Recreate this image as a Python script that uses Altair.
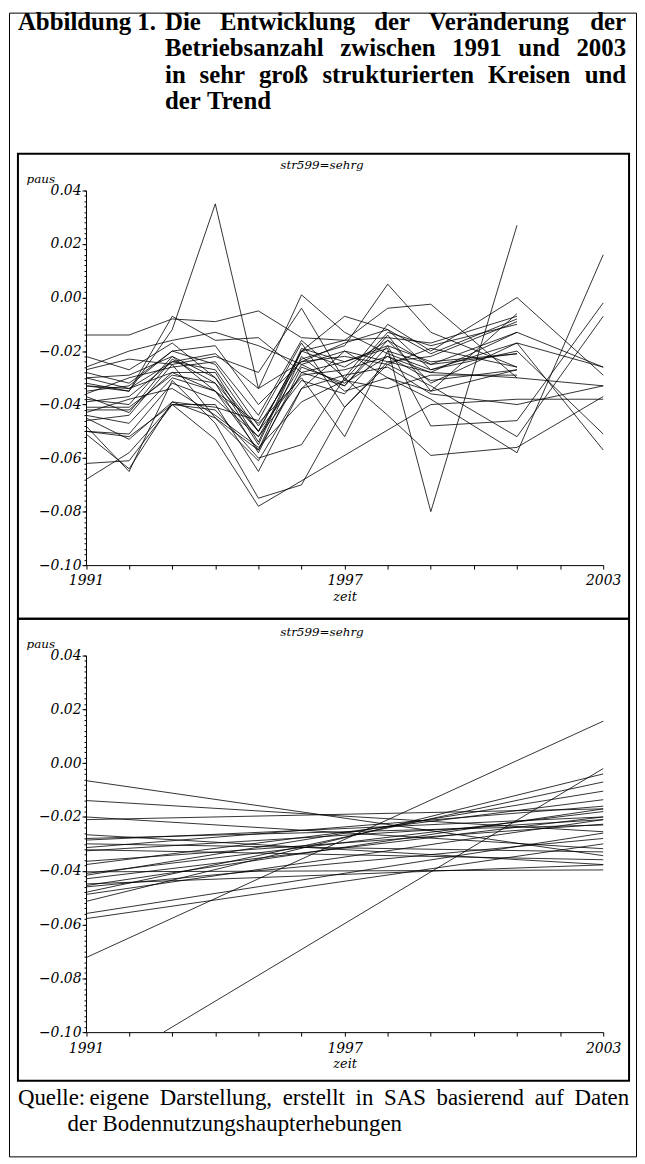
import altair as alt
import pandas as pd

# ---------------- data ----------------
years = [1991, 1992, 1993, 1994, 1995, 1996, 1997, 1998, 1999, 2001, 2003]

s01 = [-0.014, -0.014, -0.008, -0.009, -0.005, -0.015, -0.016, -0.015, -0.017, -0.007, None]
s02 = [-0.033, -0.035, -0.012, 0.035, -0.034, -0.024, -0.017, -0.012, -0.027, -0.020, -0.051]
s03 = [-0.030, -0.034, -0.024, -0.021, -0.034, 0.001, -0.013, -0.021, -0.027, -0.017, -0.026]
s04 = [-0.027, -0.023, -0.025, -0.022, -0.028, -0.004, -0.031, -0.013, -0.018, -0.010, None]
s05 = [-0.035, -0.033, -0.020, -0.025, -0.048, -0.023, -0.018, 0.005, -0.013, -0.026, None]
s06 = [-0.038, -0.040, -0.022, -0.030, -0.055, -0.020, -0.016, -0.004, -0.0025, -0.030, -0.033]
s07 = [-0.022, -0.027, -0.017, -0.030, -0.050, -0.020, -0.007, -0.012, -0.021, -0.008, None]
s08 = [-0.044, -0.047, -0.030, -0.035, -0.057, -0.028, -0.024, -0.019, -0.080, 0.027, None]
s09 = [-0.050, -0.052, -0.040, -0.042, -0.060, -0.055, -0.030, -0.044, -0.059, -0.056, -0.037]
s10 = [-0.062, -0.061, -0.040, -0.053, -0.078, None, None, None, -0.040, -0.038, -0.038]
s11 = [-0.048, -0.065, -0.031, -0.047, -0.075, -0.070, -0.041, -0.025, -0.033, -0.052, -0.007]
s12 = [-0.042, -0.042, -0.028, -0.035, -0.047, -0.030, -0.052, -0.020, -0.025, -0.013, None]
s13 = [-0.068, -0.058, -0.040, -0.040, -0.065, -0.034, -0.020, -0.030, -0.035, -0.027, None]
s14 = [-0.032, -0.035, -0.007, -0.016, -0.015, -0.028, -0.033, -0.016, -0.025, -0.021, None]
s15 = [-0.026, -0.020, -0.016, -0.013, -0.018, -0.025, -0.020, -0.024, -0.028, -0.013, -0.026]
s16 = [-0.045, -0.053, -0.039, -0.045, -0.057, -0.022, -0.035, -0.030, -0.038, -0.058, 0.016]
s17 = [-0.050, -0.051, -0.032, -0.038, -0.052, -0.031, -0.036, -0.018, -0.048, -0.046, -0.002]
s18 = [-0.036, -0.030, -0.026, -0.024, -0.044, -0.016, -0.030, -0.010, -0.020, 0.000, -0.029]
s19 = [-0.041, -0.041, -0.029, -0.032, -0.058, -0.026, -0.032, -0.022, -0.031, -0.027, None]
s20 = [-0.033, -0.034, -0.028, -0.028, -0.054, -0.019, -0.024, -0.018, -0.024, -0.021, None]
s21 = [-0.046, -0.044, -0.025, -0.045, -0.061, -0.034, -0.029, -0.026, -0.036, -0.040, -0.033]
s22 = [-0.039, -0.037, -0.024, -0.027, -0.050, -0.020, -0.026, -0.016, -0.032, -0.017, -0.057]
s23 = [-0.051, -0.064, -0.039, -0.041, -0.046, -0.017, -0.041, -0.024, -0.022, -0.009, None]
s24 = [-0.030, -0.029, -0.022, -0.035, -0.052, -0.025, -0.033, -0.014, -0.035, -0.006, None]
s25 = [-0.043, -0.038, -0.034, -0.044, -0.056, -0.039, -0.031, -0.034, -0.029, -0.029, None]
s26 = [-0.028, -0.032, -0.020, -0.018, -0.040, -0.024, -0.022, -0.025, -0.019, -0.026, None]
s27 = [-0.037, -0.043, -0.023, -0.032, -0.050, -0.029, -0.027, -0.022, -0.028, -0.030, None]

series = [s01, s02, s03, s04, s05, s06, s07, s08, s09, s10, s11, s12, s13, s14,
          s15, s16, s17, s18, s19, s20, s21, s22, s23, s24, s25, s26, s27]

# trend lines: start year, start value, end year, end value
trend_x0 = [1991] * 26 + [1992.8]
trend_y0 = [-0.0065, -0.0139, -0.020, -0.021, -0.0266, -0.0286, -0.030, -0.0314, -0.0322,
            -0.0326, -0.0365, -0.0377, -0.0404, -0.0417, -0.043, -0.0449, -0.0455, -0.048,
            -0.0488, -0.0514, -0.0559, -0.0578, -0.0723, -0.028, -0.041, -0.046, -0.100]
trend_x1 = [2003] * 27
trend_y1 = [-0.0344, -0.0255, -0.0318, -0.017, -0.0377, -0.020, -0.033, -0.016, -0.0359,
            -0.021, -0.0227, -0.0136, -0.0397, -0.0104, -0.020, -0.0378, -0.017, -0.007,
            -0.021, -0.004, -0.026, -0.030, 0.0156, -0.023, -0.018, -0.028, -0.002]

y_ticks = [0.04, 0.02, 0.00, -0.02, -0.04, -0.06, -0.08, -0.10]
x_ticks = list(range(1991, 2004))

title_head = "Abbildung 1."
title_lines = ["Die Entwicklung der Veränderung der",
               "Betriebsanzahl zwischen 1991 und 2003",
               "in sehr groß strukturierten Kreisen und",
               "der Trend"]
panel_title = "str599=sehrg"
source_head = "Quelle:"
source_lines = ["eigene Darstellung, erstellt in SAS basierend auf Daten",
                "der Bodennutzungshaupterhebungen"]

# ---------------- tables ----------------
rows1 = []
for i, s in enumerate(series):
    for yr, v in zip(years, s):
        if v is not None:
            rows1.append({"id": i, "zeit": yr, "paus": v})
df1 = pd.DataFrame(rows1)

rows2 = []
for i in range(len(trend_y0)):
    rows2.append({"id": i, "zeit": trend_x0[i], "paus": trend_y0[i]})
    rows2.append({"id": i, "zeit": trend_x1[i], "paus": trend_y1[i]})
df2 = pd.DataFrame(rows2)

# ---------------- layout (page px -> chart px) ----------------
PAD = 1
M = 8 + PAD
W, H = 640 - M, 1160 - M


def cx(x):
    return x - M


def cy(y):
    return y - M


# Times metrics (Liberation Serif is metric compatible) for justified text
TB = {" ": 250, ".": 250, ",": 250, ":": 333, "0": 500, "1": 500, "2": 500, "3": 500, "9": 500,
      "A": 722, "B": 667, "D": 722, "E": 667, "K": 778, "T": 667, "V": 722,
      "a": 500, "b": 556, "c": 444, "d": 556, "e": 444, "f": 333, "g": 500, "h": 556,
      "i": 278, "k": 556, "l": 278, "m": 833, "n": 556, "o": 500, "p": 556, "r": 444,
      "s": 389, "t": 333, "u": 556, "v": 500, "w": 722, "z": 444, "ß": 556, "ä": 500}
TR = {" ": 250, ".": 250, ",": 250, ":": 278, "A": 722, "B": 667, "D": 722, "Q": 722, "S": 556,
      "a": 444, "b": 500, "c": 444, "d": 500, "e": 444, "f": 333, "g": 500, "h": 500,
      "i": 278, "l": 278, "m": 778, "n": 500, "o": 500, "p": 500, "r": 333, "s": 389,
      "t": 278, "u": 500, "z": 444}


def word_rows(line, left, right, baseline, size, table, justify):
    words = line.split(" ")
    wid = [sum(table.get(c, 500) for c in w) * size / 1000.0 for w in words]
    sp = table[" "] * size / 1000.0
    if justify and len(words) > 1:
        gap = max(sp * 0.8, (right - left - sum(wid)) / (len(words) - 1))
    else:
        gap = sp
    out = []
    x = left
    for k, (w, ww) in enumerate(zip(words, wid)):
        if justify and k == len(words) - 1 and len(words) > 1:
            out.append({"t": w, "px": cx(right), "py": cy(baseline), "al": "right"})
        else:
            out.append({"t": w, "px": cx(x), "py": cy(baseline), "al": "left"})
        x += ww + gap
    return out


def text_layer(rows, size, weight):
    d = pd.DataFrame(rows)
    base = alt.Chart(d)
    left = base.transform_filter("datum.al == 'left'").mark_text(
        font="Liberation Serif", fontSize=size, fontWeight=weight, align="left",
        baseline="alphabetic", color="black").encode(
        text="t:N", x=alt.X("px:Q", scale=None, axis=None), y=alt.Y("py:Q", scale=None, axis=None))
    right = base.transform_filter("datum.al == 'right'").mark_text(
        font="Liberation Serif", fontSize=size, fontWeight=weight, align="right",
        baseline="alphabetic", color="black").encode(
        text="t:N", x=alt.X("px:Q", scale=None, axis=None), y=alt.Y("py:Q", scale=None, axis=None))
    return [left, right]


# header
T_SIZE, T_LH, T_BASE = 25, 26.5, 26.5
hdr_rows = [{"t": title_head, "px": cx(18), "py": cy(T_BASE), "al": "left"}]
for k, ln in enumerate(title_lines):
    hdr_rows += word_rows(ln, 166, 630, T_BASE + k * T_LH, T_SIZE, TB,
                          justify=(k < len(title_lines) - 1))

# footer
S_SIZE = 23
src_rows = [{"t": source_head, "px": cx(18), "py": cy(1108), "al": "left"}]
src_rows += word_rows(source_lines[0], 90, 633, 1108, S_SIZE, TR, justify=True)
src_rows += word_rows(source_lines[1], 68, 633, 1134, S_SIZE, TR, justify=False)

P1 = dict(x0=cx(86.5), x1=cx(607), ytop=cy(188), ybot=cy(565), box=(18, 151, 633, 619),
          title_y=162, paus_y=176)
P2 = dict(x0=cx(86.5), x1=cx(607), ytop=cy(656), ybot=cy(1035), box=(18, 619, 633, 1084),
          title_y=632, paus_y=644)

FONT_AX = "DejaVu Serif"
one = pd.DataFrame({"k": [0]})
minor_vals = [round(-0.10 + 0.002 * i, 3) for i in range(71)]


def panel(df, P):
    xs = alt.Scale(domain=[1991, 2003], range=[P["x0"], P["x1"]], nice=False, zero=False)
    ys = alt.Scale(domain=[-0.10, 0.04], range=[P["ybot"], P["ytop"]], nice=False, zero=False)
    lines = alt.Chart(df).mark_line(color="black", strokeWidth=0.8).encode(
        x=alt.X("zeit:Q", scale=xs,
                axis=alt.Axis(orient="bottom", offset=-(H - P["ybot"]), values=x_ticks,
                              format="d", labelFlush=False, labelOverlap=False,
                              labelExpr="(datum.value==1991||datum.value==1997||datum.value==2003) ? datum.label : ''",
                              title="zeit", titleFont=FONT_AX, titleFontStyle="italic",
                              titleFontWeight="normal", titleFontSize=13, titlePadding=3,
                              tickSize=4, labelPadding=5, grid=False)),
        y=alt.Y("paus:Q", scale=ys,
                axis=alt.Axis(orient="left", offset=-P["x0"], values=y_ticks, format=".2f",
                              labelFlush=False, labelOverlap=False,
                              title=None, tickSize=4, labelPadding=1, grid=False)),
        detail="id:N",
    )
    minor = alt.Chart(df).mark_line(strokeOpacity=0).encode(
        x=alt.X("zeit:Q", scale=xs, axis=None),
        y=alt.Y("paus:Q", scale=ys,
                axis=alt.Axis(orient="left", offset=-P["x0"], values=minor_vals, labels=False,
                              domain=False, tickSize=2, title=None, grid=False)),
        detail="id:N",
    )
    x0b, y0b, x1b, y1b = P["box"]
    box = alt.Chart(one).mark_rect(fillOpacity=0, stroke="black", strokeWidth=2).encode(
        x=alt.value(cx(x0b)), x2=alt.value(cx(x1b)), y=alt.value(cy(y0b)), y2=alt.value(cy(y1b)))
    ttl = alt.Chart(pd.DataFrame({"t": [panel_title]})).mark_text(
        font=FONT_AX, fontStyle="italic", fontSize=12, align="center", baseline="middle").encode(
        text="t:N", x=alt.value(cx(324)), y=alt.value(cy(P["title_y"])))
    paus = alt.Chart(pd.DataFrame({"t": ["paus"]})).mark_text(
        font=FONT_AX, fontStyle="italic", fontSize=12, align="center", baseline="middle").encode(
        text="t:N", x=alt.value(cx(41)), y=alt.value(cy(P["paus_y"])))
    return [box, lines, minor, ttl, paus]


layers = (text_layer(hdr_rows, T_SIZE, "bold") + panel(df1, P1) + panel(df2, P2)
          + text_layer(src_rows, S_SIZE, "normal"))

chart = alt.layer(*layers).resolve_scale(x="independent", y="independent").properties(
    width=W, height=H,
    autosize=alt.AutoSizeParams(type="none"),
    padding={"left": PAD, "top": PAD, "right": PAD, "bottom": PAD},
    background="white",
).configure_view(stroke="black", strokeWidth=1).configure_axis(
    labelFont=FONT_AX, labelFontStyle="italic", labelFontSize=14, labelColor="black",
    tickColor="black", domainColor="black", titleColor="black", domainWidth=1, tickWidth=1,
)

chart.save("out.html", embed_options={"renderer": "svg", "actions": False})
